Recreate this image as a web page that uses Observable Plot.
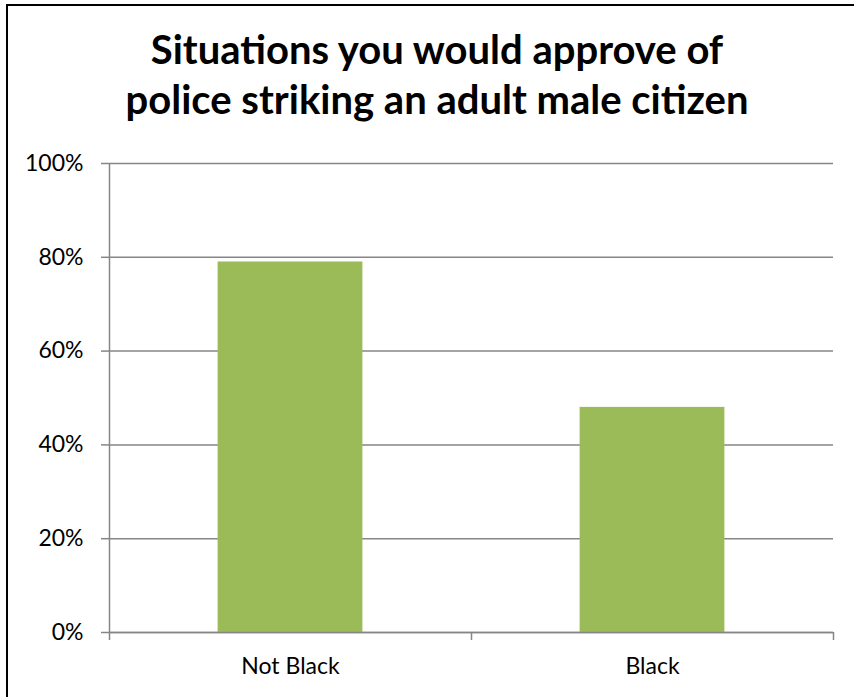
<!DOCTYPE html>
<html>
<head>
<meta charset="utf-8">
<script src="https://cdn.jsdelivr.net/npm/d3@7"></script>
<script src="https://cdn.jsdelivr.net/npm/@observablehq/plot@0.6"></script>
<style>
  html, body { margin: 0; padding: 0; background: #fff; }
  body { width: 854px; height: 697px; position: relative; overflow: hidden; font-family: Lato, sans-serif; }
  #frame { position: absolute; left: 6px; top: 4px; width: 900px; height: 800px; border-left: 2px solid #000; border-top: 2px solid #000; }
  #title { position: absolute; left: 0; width: 874px; top: 24px; text-align: center; font-weight: bold; font-size: 40px; line-height: 50px; color: #000; }
  #chart { position: absolute; left: 0; top: 140px; }
</style>
</head>
<body>
<div id="frame"></div>
<div id="title">Situations you would approve of<br>police striking an adult male citizen</div>
<div id="chart"></div>
<script>
const categories = ["Not Black", "Black"];
const values = [0.79, 0.48];
const yTicks = [0, 0.2, 0.4, 0.6, 0.8, 1];
const barColor = "#9BBB59";
const gridColor = "#868686";

const data = categories.map((c, i) => ({category: c, i, value: values[i]}));

const chart = Plot.plot({
  width: 854,
  height: 557,
  marginLeft: 109,
  marginRight: 21,
  marginTop: 23,
  marginBottom: 65,
  style: {fontFamily: "Lato, sans-serif", fontSize: "23px", color: "#000", background: "transparent"},
  x: {domain: [0, categories.length], axis: null},
  y: {domain: [0, 1], axis: null},
  marks: [
    Plot.gridY(yTicks, {stroke: gridColor, strokeOpacity: 1, strokeWidth: 1.5}),
    Plot.rectY(data, {x1: d => d.i + 0.3, x2: d => d.i + 0.7, y1: 0, y2: "value", fill: barColor}),
    Plot.ruleX([0], {stroke: gridColor, strokeWidth: 1.5}),
    Plot.ruleY([0], {stroke: gridColor, strokeWidth: 1.5}),
    Plot.axisY(yTicks, {tickSize: 8, tickPadding: 18, stroke: gridColor, strokeWidth: 1.5, fill: "#000", tickFormat: d3.format(".0%"), fontSize: 23, label: null}),
    Plot.axisX(d3.range(categories.length + 1), {tickSize: 8, stroke: gridColor, strokeWidth: 1.5, tickFormat: () => "", label: null}),
    Plot.axisX(data.map(d => d.i + 0.5), {tickSize: 0, tickPadding: 25, fill: "#000", tickFormat: v => categories[Math.floor(v)], fontSize: 23, label: null})
  ]
});
document.getElementById("chart").appendChild(chart);
</script>
</body>
</html>
